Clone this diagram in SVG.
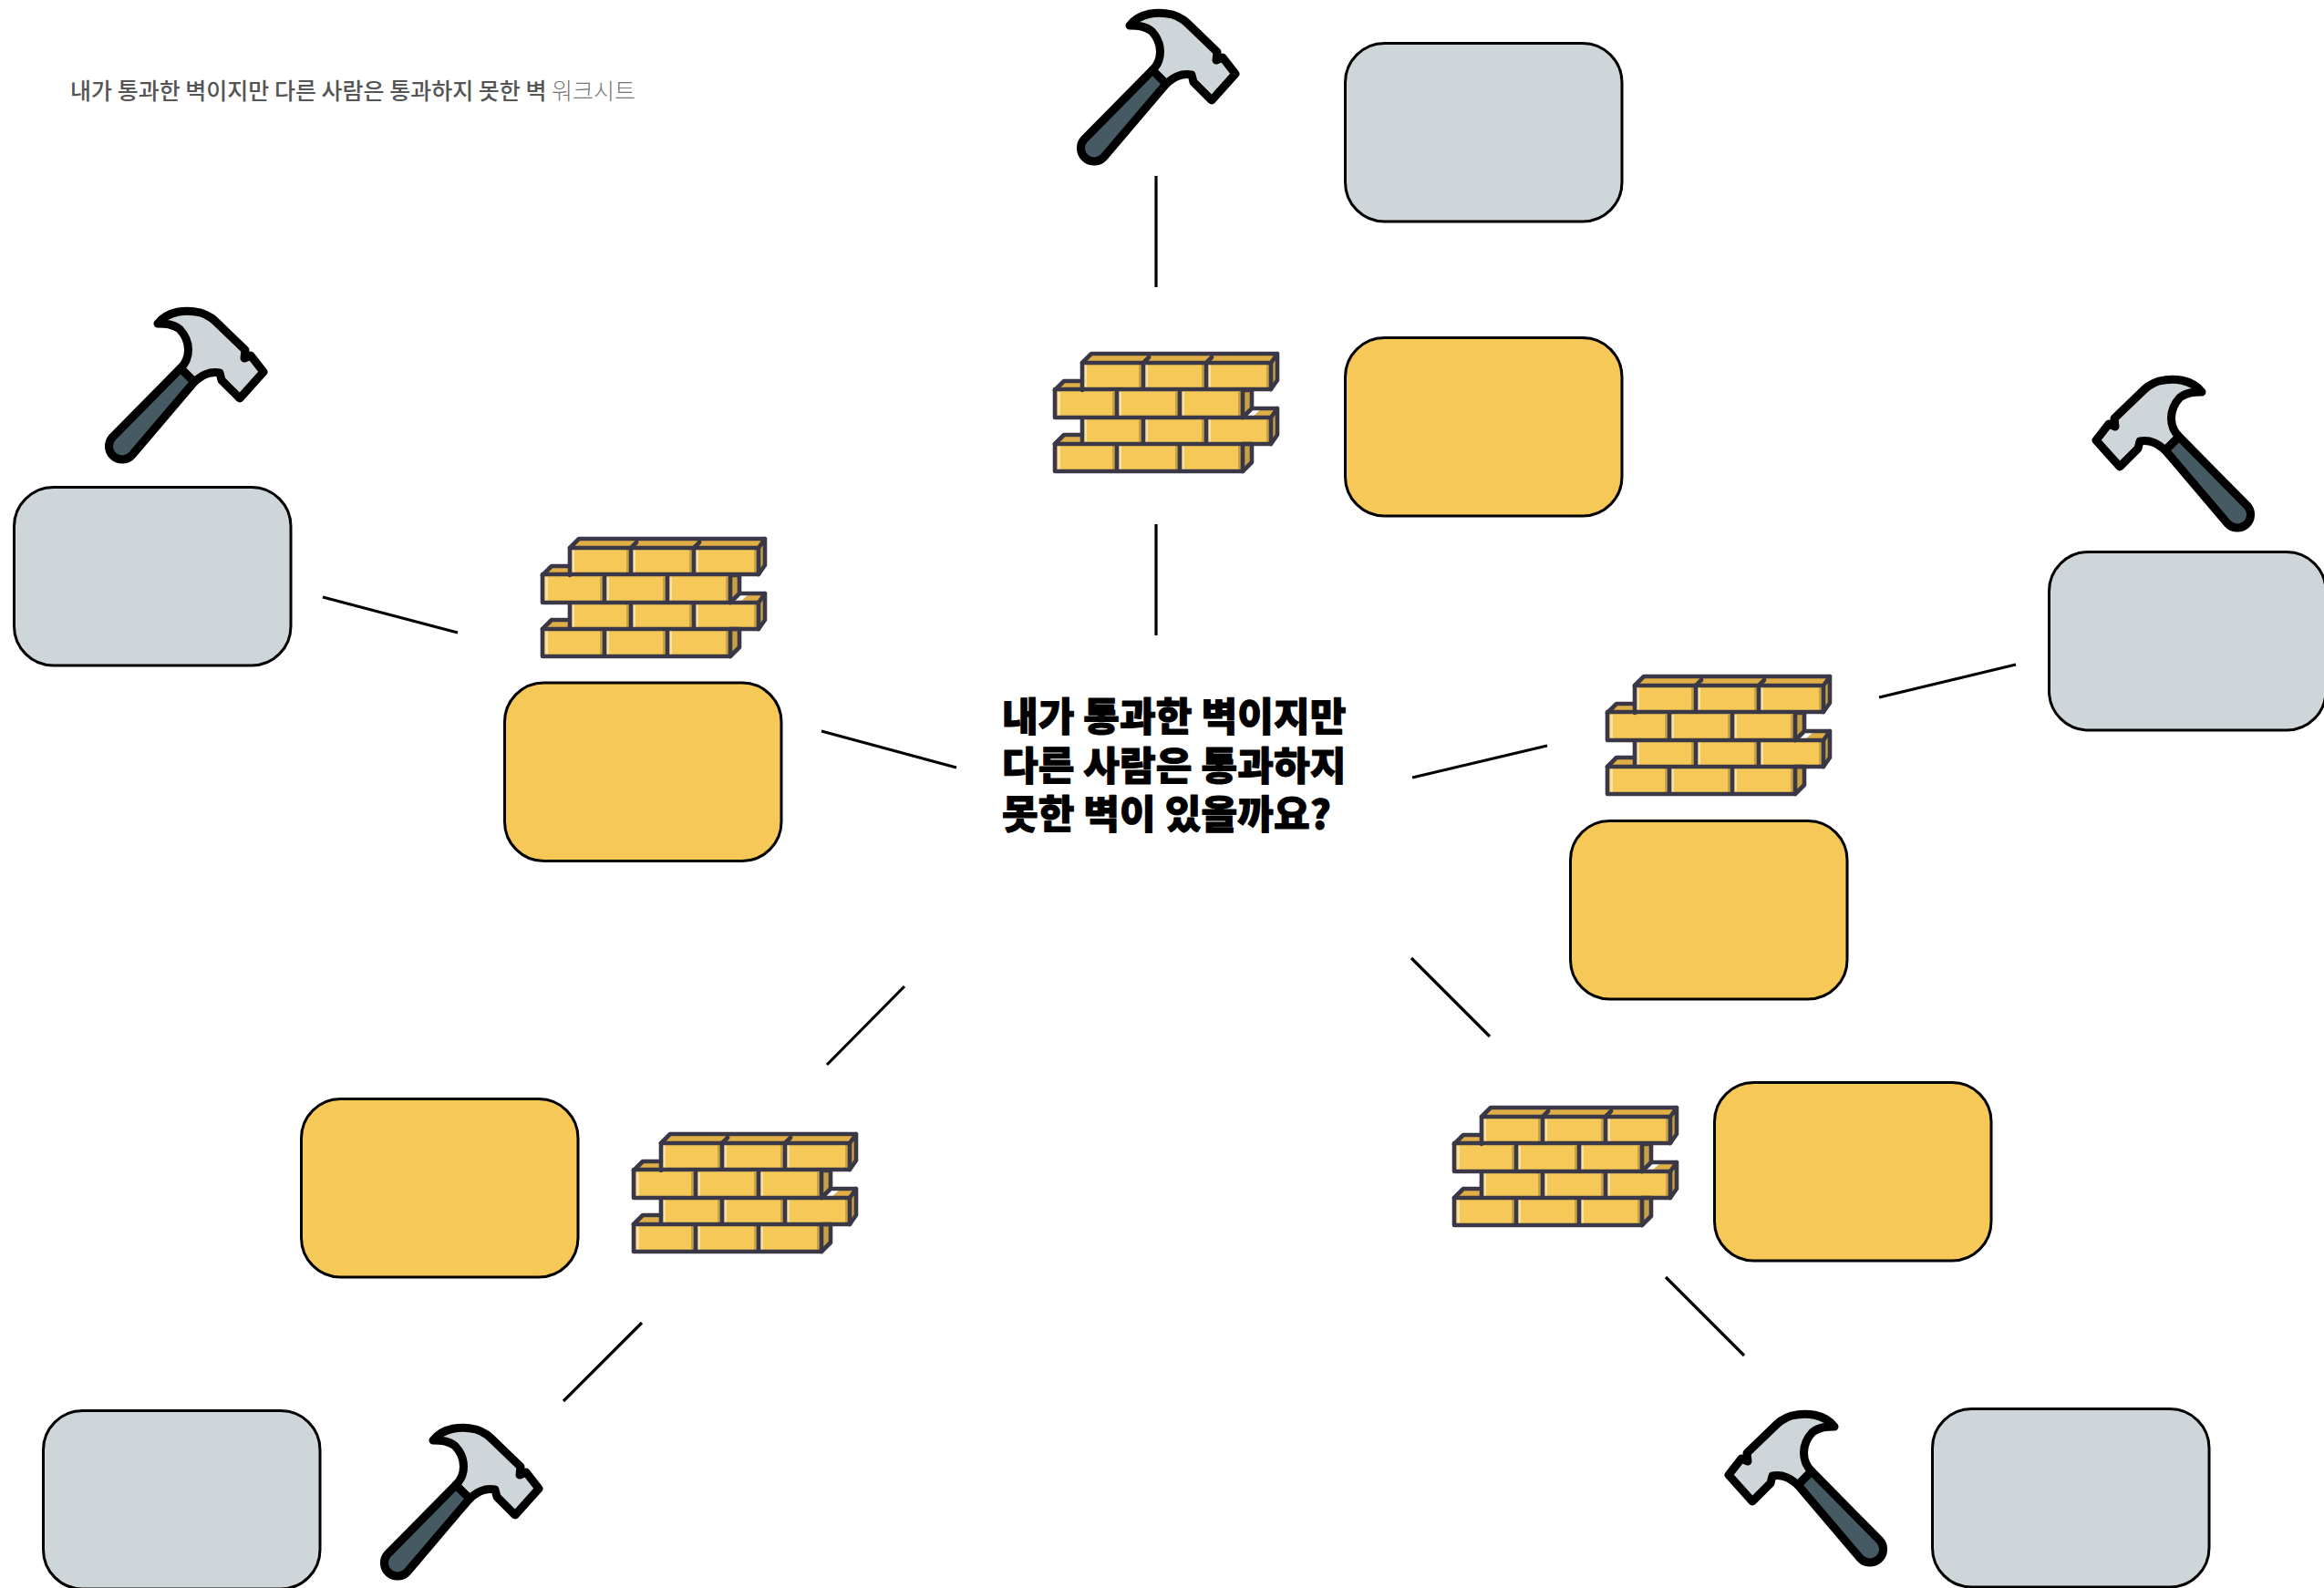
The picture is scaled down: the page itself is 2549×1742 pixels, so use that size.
<svg xmlns="http://www.w3.org/2000/svg" width="2549" height="1742" viewBox="0 0 2549 1742">
<style>
.conn{stroke:#000;stroke-width:3.2;fill:none}
.gray{fill:#cfd6d9;stroke:#000;stroke-width:3}
.yel{fill:#f5c858;stroke:#000;stroke-width:3}
.f{fill:#f5c858}
.s{fill:#c9a145}
.t{fill:#e0ae47}
.o{fill:none;stroke:#3a3847;stroke-width:4.6;stroke-linejoin:round;stroke-linecap:round}
.title{font-family:"Noto Sans CJK KR","Noto Sans",sans-serif;font-weight:900;font-size:43.2px;fill:#000;stroke:#000;stroke-width:1;stroke-linejoin:round}
.sub{font-family:"Noto Sans CJK KR","Noto Sans",sans-serif;font-size:25px}
</style>
<defs>
<g id="brick">
<path class="t" d="M31 11L41 1H245L238 11ZM1 41L11 31H31V41ZM217 71L228 61H245V71H217ZM1 100L11 90H31V100Z"/>
<path class="s" d="M238 11L245 1V30L238 40ZM207 41H217V61L207 71ZM238 71L245 61V90L238 100ZM207 100H217V120L207 130Z"/>
<path class="f" d="M31 11H238V40H31ZM1 41H207V71H1ZM31 71H238V100H31ZM1 100H207V130H1Z"/>
<path fill="#f8e2a8" d="M33 13h3v26h-3zM100 13h3v26h-3zM169 13h3v26h-3zM4 43h3v26h-3zM71 43h3v26h-3zM140 43h3v26h-3zM33 73h3v25h-3zM100 73h3v25h-3zM169 73h3v25h-3zM4 102h3v26h-3zM71 102h3v26h-3zM140 102h3v26h-3z"/>
<path fill="#c9a145" d="M93 13h3v26h-3zM162 13h3v26h-3zM233 13h3v26h-3zM64 43h3v26h-3zM133 43h3v26h-3zM202 43h3v26h-3zM93 73h3v25h-3zM162 73h3v25h-3zM233 73h3v25h-3zM64 102h3v26h-3zM133 102h3v26h-3zM202 102h3v26h-3z"/>
<path class="o" d="M31 41V11H238V40H1V71H207V41M31 71V100H238V71H207M1 100V130H207V100H1M98 11V40M167 11V40M69 41V71M138 41V71M98 71V100M167 71V100M69 100V130M138 100V130"/>
<path class="o" d="M31 11L41 1H245V30L238 40M238 11L245 1M207 41H217V61L207 71M217 61H245V90L238 100M238 71L245 61M207 100H217V120L207 130M1 41L11 31H31M1 100L11 90H31M98 11L104 5M167 11L173 5"/>
</g>
<g id="hammer">
<path fill="#cfd6d9" stroke="#000" stroke-width="9" stroke-linejoin="round" d="M79 28C90 14 110 12 126 16C136 19 141 24 146 29L175 57L174 66L181 63L195 81L169 110L149 90L147 82C135 80 127 85 119 92L104 77C115 66 116 48 103 34C95 28 87 28 79 28Z"/>
<path fill="#465a64" stroke="#000" stroke-width="9" stroke-linejoin="round" d="M104 77L119 92L51 172A14.5 14.5 0 0 1 29 153Z"/>
</g>
</defs>
<g id="connectors">
<line class="conn" x1="1268" y1="193" x2="1268" y2="315"/>
<line class="conn" x1="1268" y1="575" x2="1268" y2="697"/>
<line class="conn" x1="354" y1="655" x2="502" y2="694"/>
<line class="conn" x1="901" y1="802" x2="1049" y2="842"/>
<line class="conn" x1="1549" y1="853" x2="1697" y2="818"/>
<line class="conn" x1="2061" y1="765" x2="2211" y2="729"/>
<line class="conn" x1="1548" y1="1051" x2="1634" y2="1137"/>
<line class="conn" x1="1827" y1="1401" x2="1913" y2="1487"/>
<line class="conn" x1="992" y1="1082" x2="907" y2="1168"/>
<line class="conn" x1="704" y1="1451" x2="618" y2="1537"/>
</g>
<g id="title-text">
<text class="sub" x="77" y="109"><tspan fill="#555" font-weight="500">내가 통과한 벽이지만 다른 사람은 통과하지 못한 벽 </tspan><tspan fill="#777" font-weight="300">워크시트</tspan></text>
</g>
<g id="question">
<text class="title" x="1099" y="802">내가 통과한 벽이지만</text>
<text class="title" x="1099" y="856">다른 사람은 통과하지</text>
<text class="title" x="1099" y="909">못한 벽이 있을까요?</text>
</g>
<g id="box-gray-top"><rect class="gray" x="1475.5" y="47.5" width="303.5" height="195.5" rx="43"/></g>
<g id="box-gray-left"><rect class="gray" x="15.5" y="534.5" width="303.5" height="195.5" rx="43"/></g>
<g id="box-gray-right"><rect class="gray" x="2247.5" y="605.5" width="303.5" height="195.5" rx="43"/></g>
<g id="box-gray-bl"><rect class="gray" x="47.5" y="1547.5" width="303.5" height="195.5" rx="43"/></g>
<g id="box-gray-br"><rect class="gray" x="2119.5" y="1545.5" width="303.5" height="195.5" rx="43"/></g>
<g id="box-yellow-top"><rect class="yel" x="1475.5" y="370.5" width="303.5" height="195.5" rx="43"/></g>
<g id="box-yellow-left"><rect class="yel" x="553.5" y="749" width="303.5" height="195.5" rx="43"/></g>
<g id="box-yellow-right"><rect class="yel" x="1722.5" y="900.5" width="303.5" height="195.5" rx="43"/></g>
<g id="box-yellow-bl"><rect class="yel" x="330.5" y="1205.5" width="303.5" height="195.5" rx="43"/></g>
<g id="box-yellow-br"><rect class="yel" x="1880.5" y="1187.5" width="303.5" height="195.5" rx="43"/></g>
<g id="brick-top"><use href="#brick" x="1156" y="387"/></g>
<g id="brick-left"><use href="#brick" x="594" y="590"/></g>
<g id="brick-right"><use href="#brick" x="1762" y="741"/></g>
<g id="brick-bl"><use href="#brick" x="694" y="1243"/></g>
<g id="brick-br"><use href="#brick" x="1594" y="1214"/></g>
<g id="hammer-top"><use href="#hammer" transform="translate(1160 0)"/></g>
<g id="hammer-left"><use href="#hammer" transform="translate(94 327)"/></g>
<g id="hammer-bl"><use href="#hammer" transform="translate(396 1552)"/></g>
<g id="hammer-right"><use href="#hammer" transform="translate(2494 402) scale(-1 1)"/></g>
<g id="hammer-br"><use href="#hammer" transform="translate(2091 1537) scale(-1 1)"/></g>
</svg>
